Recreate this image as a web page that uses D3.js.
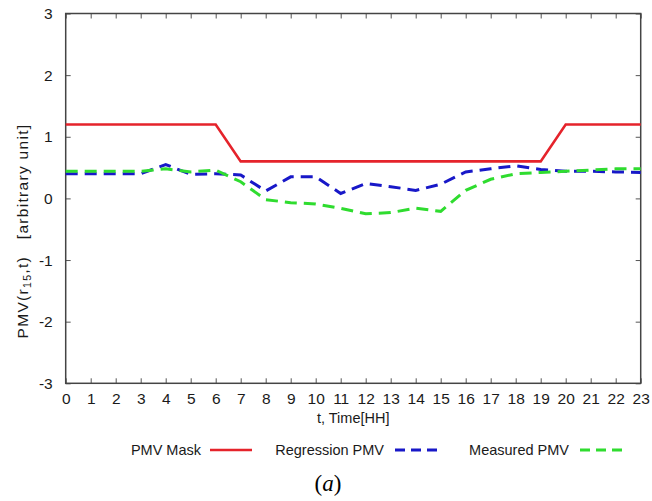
<!DOCTYPE html>
<html><head><meta charset="utf-8">
<script src="https://cdn.jsdelivr.net/npm/d3@7"></script>
<style>body{margin:0;background:#fff}svg{display:block}text{font-family:"Liberation Sans",Arial,sans-serif}</style>
</head><body><svg id="c" width="652" height="501"></svg>
<script>
const hours = d3.range(0, 24);
const xTicks = d3.range(0, 24);
const yTicks = [-3, -2, -1, 0, 1, 2, 3];
const maskHours = [0, 6, 7, 19, 20, 23];
const maskValues = [1.2, 1.2, 0.6, 0.6, 1.2, 1.2];
const regressionPMV = [0.40,0.40,0.40,0.40,0.55,0.39,0.40,0.38,0.12,0.35,0.35,0.08,0.24,0.19,0.13,0.23,0.43,0.48,0.53,0.47,0.44,0.44,0.43,0.42];
const measuredPMV = [0.44,0.44,0.44,0.44,0.48,0.43,0.46,0.27,-0.02,-0.07,-0.09,-0.16,-0.25,-0.23,-0.16,-0.21,0.13,0.31,0.40,0.42,0.44,0.46,0.48,0.48];
const legendLabels = ["PMV Mask", "Regression PMV", "Measured PMV"];
const colors = ["#e5232b", "#1818c8", "#2fdc2f"];

const svg = d3.select("#c");
const L = 65.7, R = 640.7, T = 13.5, B = 383.3;
const x = d3.scaleLinear().domain([0, 23]).range([L, R]);
const y = d3.scaleLinear().domain([-3, 3]).range([B, T]);
const fmt = d => String(d);

const tickLen = 5;
const axisStyle = g => {
  g.select(".domain").remove();
  g.selectAll("line").attr("stroke", "#555").attr("stroke-width", 1);
  g.selectAll("text").attr("fill", "#1a1a1a").style("font-size", "15.5px");
};
svg.append("g").attr("transform", `translate(0,${B})`)
  .call(d3.axisBottom(x).tickValues(xTicks).tickSizeInner(-tickLen).tickSizeOuter(0).tickPadding(10).tickFormat(fmt))
  .call(axisStyle);
svg.append("g").attr("transform", `translate(0,${T})`)
  .call(d3.axisTop(x).tickValues(xTicks).tickSizeInner(-tickLen).tickSizeOuter(0).tickFormat(""))
  .call(axisStyle);
svg.append("g").attr("transform", `translate(${L},0)`)
  .call(d3.axisLeft(y).tickValues(yTicks).tickSizeInner(-tickLen).tickSizeOuter(0).tickPadding(13).tickFormat(fmt))
  .call(axisStyle);
svg.append("g").attr("transform", `translate(${R},0)`)
  .call(d3.axisRight(y).tickValues(yTicks).tickSizeInner(-tickLen).tickSizeOuter(0).tickFormat(""))
  .call(axisStyle);

svg.append("rect").attr("x", L).attr("y", T).attr("width", R - L).attr("height", B - T)
  .attr("fill", "none").attr("stroke", "#444").attr("stroke-width", 1.5);

const line = d3.line().x(d => x(d[0])).y(d => y(d[1]));
svg.append("path").datum(maskHours.map((h, i) => [h, maskValues[i]]))
  .attr("d", line).attr("fill", "none").attr("stroke", colors[0]).attr("stroke-width", 2.6);
svg.append("path").datum(hours.map((h, i) => [h, regressionPMV[i]]))
  .attr("d", line).attr("fill", "none").attr("stroke", colors[1]).attr("stroke-width", 3)
  .attr("stroke-dasharray", "12,7");
svg.append("path").datum(hours.map((h, i) => [h, measuredPMV[i]]))
  .attr("d", line).attr("fill", "none").attr("stroke", colors[2]).attr("stroke-width", 3)
  .attr("stroke-dasharray", "12,7");

svg.append("text").attr("x", (L + R) / 2).attr("y", 423).attr("text-anchor", "middle")
  .style("font-size", "14.5px").attr("fill", "#1a1a1a").text("t, Time[HH]");

const yl = svg.append("text").attr("transform", "translate(28,231) rotate(-90)")
  .attr("text-anchor", "middle").style("font-size", "15.5px").style("letter-spacing", "1.3px")
  .style("white-space", "pre").attr("fill", "#1a1a1a");
yl.append("tspan").text("PMV(r");
yl.append("tspan").attr("dy", 3).style("font-size", "10.5px").text("15");
yl.append("tspan").attr("dy", -3).text(",t)   [arbitrary unit]");

const legendTextEnd = [201, 384, 569];
const legendLineStart = [210, 395, 580];
legendLabels.forEach((lab, i) => {
  svg.append("text").attr("x", legendTextEnd[i]).attr("y", 455).attr("text-anchor", "end")
    .style("font-size", "14.5px").attr("fill", "#1a1a1a").text(lab);
  svg.append("line").attr("x1", legendLineStart[i]).attr("x2", legendLineStart[i] + 42)
    .attr("y1", 450).attr("y2", 450).attr("stroke", colors[i]).attr("stroke-width", i === 0 ? 2.6 : 3)
    .attr("stroke-dasharray", i === 0 ? null : "10,6");
});

const cap = svg.append("text").attr("x", 328).attr("y", 491).attr("text-anchor", "middle")
  .style("font-family", "'Liberation Serif','Times New Roman',serif").style("font-size", "23px").attr("fill", "#000");
cap.append("tspan").text("(");
cap.append("tspan").style("font-style", "italic").text("a");
cap.append("tspan").text(")");
</script></body></html>
